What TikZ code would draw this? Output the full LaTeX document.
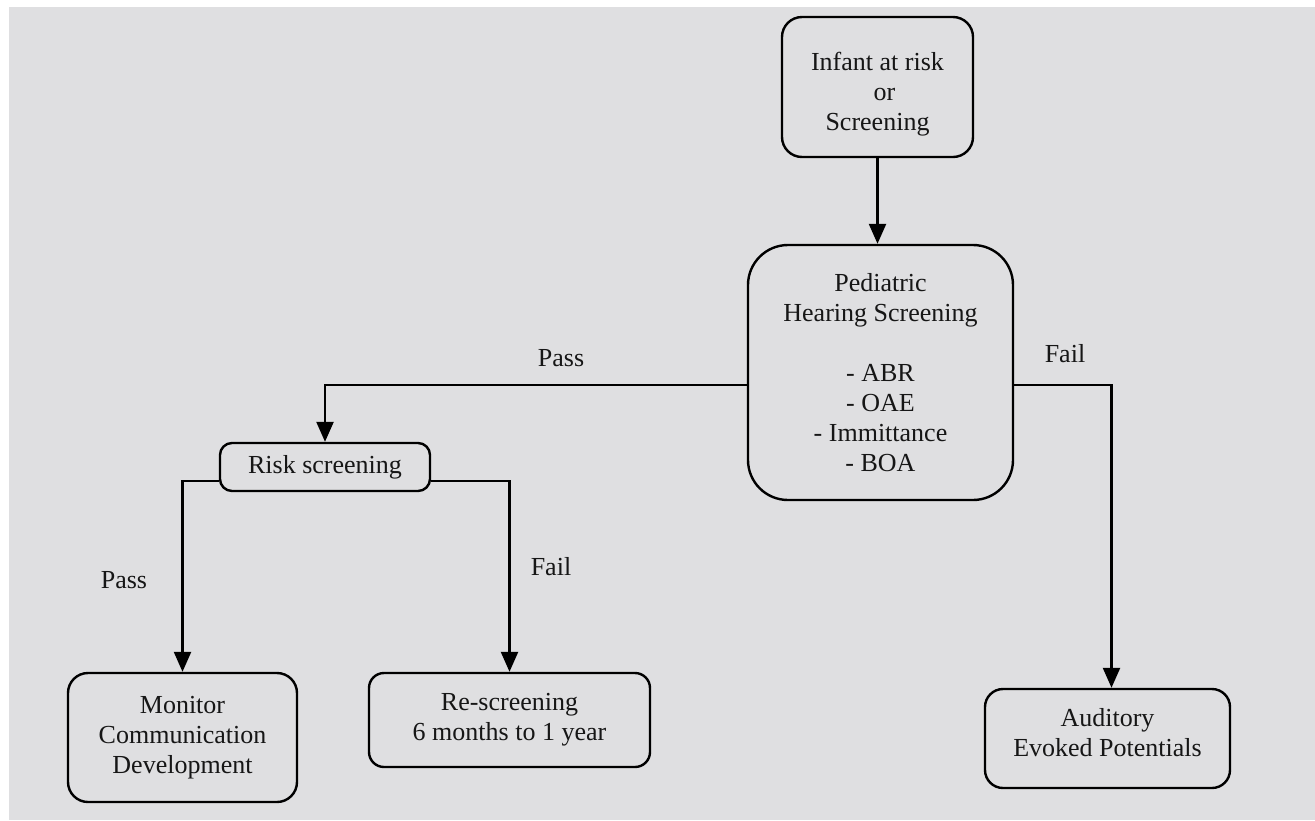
\documentclass[tikz,border=0pt]{standalone}
\usepackage{fontspec}
\setmainfont{Liberation Serif}
\usetikzlibrary{arrows.meta}
\definecolor{bggrey}{RGB}{223,223,225}
\definecolor{txt}{RGB}{22,22,22}
\tikzset{
  box/.style={draw=black, line width=2.4pt, align=center, text=txt, inner sep=0pt,
    font=\fontsize{26}{30}\selectfont},
  boxtext/.style={align=center, text=txt, inner sep=0pt, font=\fontsize{26}{30}\selectfont},
  lbl/.style={text=txt, inner sep=0pt, font=\fontsize{26}{30}\selectfont},
  arr/.style={draw=black, line width=2.4pt, -{Triangle[length=20pt,width=17pt]}},
}
\begin{document}
\begin{tikzpicture}[x=1pt,y=-1pt]
\useasboundingbox (0,0) rectangle (1315,820);
\fill[white] (0,0) rectangle (1315,820);
\fill[bggrey] (9,7) rectangle (1315,820);

\node[box, rounded corners=20pt, minimum width=191pt, minimum height=140pt] (inf) at (877.5,87) {};
\node[boxtext] (inftext) at ([yshift=-7pt]inf.center) {Infant at risk\\\hspace*{14pt}or\\Screening};
\node[box, rounded corners=40pt, minimum width=265pt, minimum height=255pt] (ped) at (880.5,372.5) {Pediatric\\Hearing Screening\\[30pt]- ABR\\- OAE\\- Immittance\\- BOA};
\node[box, rounded corners=12pt, minimum width=210pt, minimum height=48pt] (risk) at (325,467) {Risk screening};
\node[box, rounded corners=20pt, minimum width=229pt, minimum height=129pt] (mon) at (182.5,737.5) {Monitor\\Communication\\Development};
\node[box, rounded corners=15pt, minimum width=281pt, minimum height=94pt] (res) at (509.5,720) {Re-screening\\6 months to 1 year};
\node[box, rounded corners=18pt, minimum width=245pt, minimum height=99pt] (aud) at (1107.5,738.5) {};
\node[boxtext] (audtext) at ([yshift=6pt]aud.center) {Auditory\\Evoked Potentials};

\draw[arr] (inf.south) -- (inf.south |- ped.north);
\draw[arr] ([yshift=-12.5pt]ped.west) -| (risk.north);
\draw[arr] ([yshift=-12.5pt]ped.east) -| ([xshift=4pt]aud.north);
\draw[arr] ([yshift=-14pt]risk.west) -| (mon.north);
\draw[arr] ([yshift=-14pt]risk.east) -| (res.north);

\node[lbl] (p1) at (561,358) {Pass};
\node[lbl] (f1) at (1065,354) {Fail};
\node[lbl] (p2) at (124,580) {Pass};
\node[lbl] (f2) at (551,567) {Fail};
\end{tikzpicture}
\end{document}
